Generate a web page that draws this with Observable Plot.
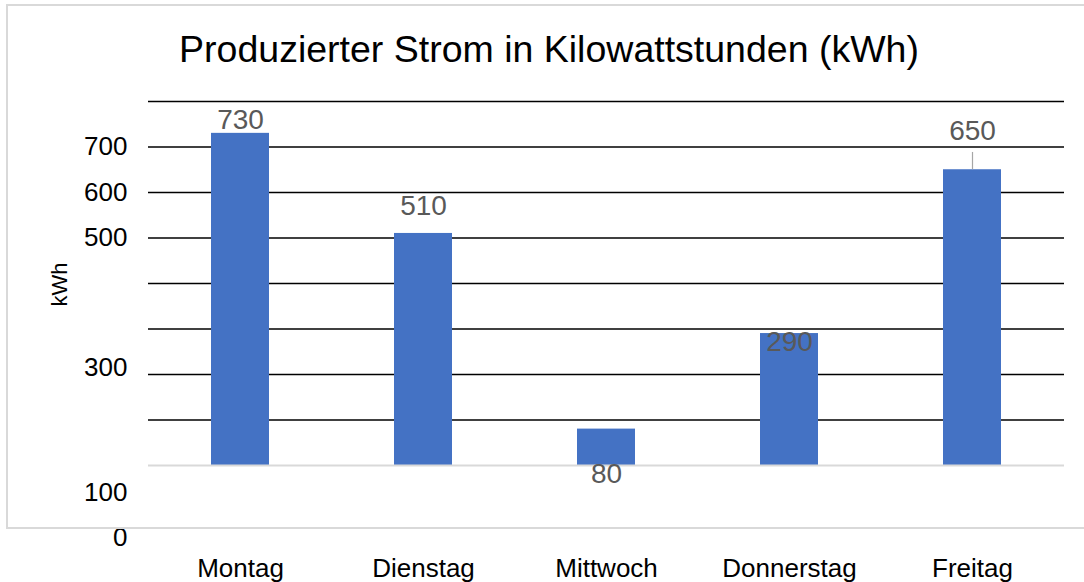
<!DOCTYPE html>
<html>
<head>
<meta charset="utf-8">
<script src="https://cdn.jsdelivr.net/npm/d3@7"></script>
<script src="https://cdn.jsdelivr.net/npm/@observablehq/plot@0.6"></script>
<style>
  html, body { margin: 0; padding: 0; background: #fff; overflow: hidden; }
  #wrap { position: relative; width: 1084px; height: 582px; font-family: "Liberation Sans", Arial, sans-serif; }
  #chart { position: absolute; left: 0; top: 0; }
  #frame { position: absolute; left: 6px; top: 4px; width: 1100px; height: 525px; box-sizing: border-box; border: 2px solid #d9d9d9; pointer-events: none; }
  #title { position: absolute; top: 31px; left: 549px; transform: translateX(-50%); white-space: nowrap; font-size: 37.5px; line-height: 1; color: #000; }
</style>
</head>
<body>
<div id="wrap">
  <div id="chart"></div>
  <div id="frame"></div>
  <div id="title">Produzierter Strom in Kilowattstunden (kWh)</div>
</div>
<script>
// Data
const days = ["Montag", "Dienstag", "Mittwoch", "Donnerstag", "Freitag"];
const kwh = [730, 510, 80, 290, 650];
// where each data label sits (in kWh units), as placed in the original chart
const labelAt = [760, 571, -18, 272, 734];
// leader line from label to bar (Freitag)
const leaderDays = ["Freitag"];
const leaderFrom = [688];
const leaderTo = [650];
// gridlines
const gridValues = [100, 200, 300, 400, 500, 600, 700, 800];
// y tick labels and where they appear
const tickLabels = ["700", "600", "500", "300", "100", "0"];
const tickAt = [700, 600, 500, 216, -60, -159];

const rows = days.map((d, i) => ({day: d, kwh: kwh[i], labelAt: labelAt[i]}));
const leaders = leaderDays.map((d, i) => ({day: d, y1: leaderFrom[i], y2: leaderTo[i]}));
const tickMap = new Map(tickAt.map((v, i) => [v, tickLabels[i]]));

const chart = Plot.plot({
  width: 1084,
  height: 582,
  marginTop: 101,
  marginBottom: 117,
  marginLeft: 148,
  marginRight: 20,
  style: {fontFamily: "'Liberation Sans', Arial, sans-serif", background: "transparent", overflow: "visible", color: "#000"},
  x: {domain: days, paddingInner: 0.684, paddingOuter: 0.342},
  y: {domain: [0, 800]},
  marks: [
    Plot.ruleY(gridValues, {stroke: "#000", strokeWidth: 1.5}),
    Plot.barY(rows, {x: "day", y: "kwh", fill: "#4472c4"}),
    Plot.ruleY([0], {stroke: "#d9d9d9", strokeWidth: 2}),
    Plot.ruleX(leaders, {x: "day", y1: "y1", y2: "y2", stroke: "#a6a6a6", strokeWidth: 1.2}),
    Plot.text(rows, {x: "day", y: "labelAt", text: d => String(d.kwh), fill: "#595959", fontSize: 28}),
    Plot.axisX({tickSize: 0, tickPadding: 93, fontSize: 26, label: null}),
    Plot.axisY({ticks: tickAt, tickFormat: d => tickMap.get(d), tickSize: 0, tickPadding: 21, fontSize: 26, label: null}),
    Plot.text(["kWh"], {frameAnchor: "left", textAnchor: "middle", rotate: -90, dx: -89, dy: 1, fontSize: 22, fill: "#000"})
  ]
});
document.getElementById("chart").appendChild(chart);
</script>
</body>
</html>
